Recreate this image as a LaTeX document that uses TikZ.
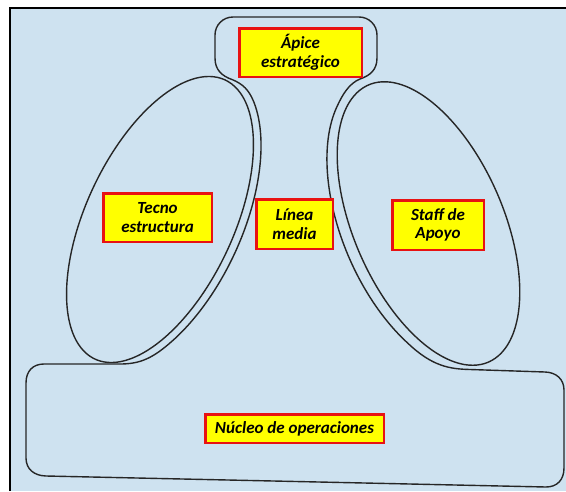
\documentclass[tikz,border=0pt]{standalone}
\usepackage{fontspec}
\setmainfont{Carlito}
\definecolor{paper}{RGB}{206,226,240}
\definecolor{boxred}{RGB}{232,18,18}
\definecolor{boxyellow}{RGB}{255,255,0}
\begin{document}
\begin{tikzpicture}[x=1pt,y=-1pt,
  part/.style={draw=black!85, line width=1.4pt, line join=round},
  label box/.style={draw=boxred, fill=boxyellow, line width=2.5pt, inner sep=0pt,
    align=center, font=\fontsize{17}{18.5}\selectfont\bfseries\itshape}]
\useasboundingbox (0,0) rectangle (566,491);
% page and frame
\fill[white] (0,0) rectangle (566,491);
\fill[paper] (10,8) rectangle (566,491);
\draw[line width=2pt] (10,491) -- (10,8) -- (566,8);

% outer contour: operating core, middle line and strategic apex
\draw[part]
  (44,364) -- (120,364)
  .. controls (140,364) and (152.9,358.4) .. (172.9,340.4)
  -- plot[domain=-130:-25, samples=60, variable=\t]
     ({160+68.46*cos(\t)-74.32*sin(\t)}, {219.5-146.82*cos(\t)-34.65*sin(\t)})
  .. controls (248.8,90) and (243,84) .. (232,79.5)
  .. controls (222,76) and (215,70) .. (215,58)
  -- (215,35) .. controls (215,25) and (223,17) .. (233,17)
  -- (359,17) .. controls (369,17) and (377,25) .. (377,35)
  -- (377,58) .. controls (377,70) and (370,75.5) .. (360,79)
  .. controls (349,83.5) and (342.5,94.7) .. (337.4,105.7)
  -- plot[domain=-155:-50, samples=60, variable=\t]
     ({428+63.14*cos(\t)+78.93*sin(\t)}, {223.5+145.93*cos(\t)-34.15*sin(\t)})
  .. controls (432.4,366.5) and (450,369) .. (470,369.5)
  -- (545,372) .. controls (556,372.3) and (564,379) .. (564,390)
  -- (564,468) .. controls (564,480) and (557,487) .. (546,487)
  -- (46,476) .. controls (34,475.7) and (26,469) .. (26,458)
  -- (26,383) .. controls (26,371) and (33,364) .. (44,364) -- cycle;

% technostructure
\draw[part] plot[domain=0:360, samples=120, smooth, variable=\t]
  ({160+65.08*cos(\t)+67.07*sin(\t)}, {219.5-139.57*cos(\t)+31.27*sin(\t)}) -- cycle;

% support staff
\draw[part] plot[domain=0:360, samples=120, smooth, variable=\t]
  ({428.5+59.96*cos(\t)-68.84*sin(\t)}, {223.5+138.59*cos(\t)+29.78*sin(\t)}) -- cycle;

% labels
\node[label box, minimum width=122.5pt, minimum height=48.5pt] (apex) at (300.5,52.5) {Ápice\\estratégico};
\node[label box, minimum width=108.5pt, minimum height=48.5pt] (techno) at (157.5,217.5) {Tecno\\estructura};
\node[label box, minimum width=76.5pt, minimum height=49.5pt] (middle) at (294.5,224) {Línea\\media};
\node[label box, minimum width=91.5pt, minimum height=49.5pt] (staff) at (438,225) {Staff de\\Apoyo};
\node[label box, minimum width=178.5pt, minimum height=28.5pt] (core) at (294.5,428.5) {Núcleo de operaciones};
\end{tikzpicture}
\end{document}
